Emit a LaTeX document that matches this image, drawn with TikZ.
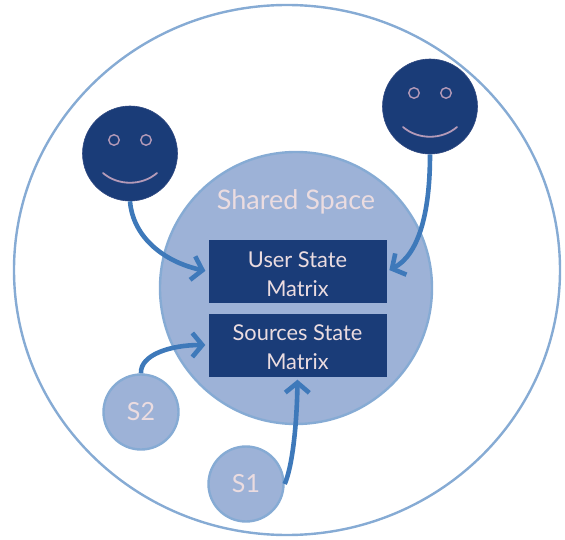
\documentclass[tikz,border=0pt]{standalone}
\usepackage{fontspec}
\setmainfont{Lato}
\usetikzlibrary{arrows.meta,shapes.geometric}
\definecolor{navy}{HTML}{1A3C78}
\definecolor{fillblue}{HTML}{9DB2D7}
\definecolor{edgeblue}{HTML}{86ABD4}
\definecolor{arrowblue}{HTML}{3E79BA}
\definecolor{paletext}{HTML}{EBDCE0}
\definecolor{facemark}{HTML}{B49AB8}
\tikzset{
  outerring/.style={ellipse,draw=edgeblue,line width=2.4pt,inner sep=0pt,minimum width=546pt,minimum height=530pt},
  sharedcircle/.style={circle,draw=edgeblue,line width=2.4pt,fill=fillblue,inner sep=0pt,minimum size=272pt},
  facecircle/.style={circle,fill=navy,draw=navy!85!facemark,line width=.6pt,inner sep=0pt,minimum size=95pt},
  sourcecircle/.style={circle,draw=edgeblue,line width=2.4pt,fill=fillblue,text=paletext,font=\fontsize{25}{27}\selectfont,inner sep=0pt,minimum size=75pt},
  matrixbox/.style={rectangle,fill=navy,text=paletext,align=center,font=\fontsize{21.8}{29}\selectfont,inner sep=0pt,minimum width=178pt,minimum height=63pt},
  sharedlabel/.style={text=paletext,font=\fontsize{27}{30}\selectfont,inner sep=0pt},
  eye/.style={circle,draw=facemark,line width=1.4pt,inner sep=0pt,minimum size=10.5pt},
  mouth/.style={draw=facemark,line width=1.8pt,line cap=round},
  flow/.style={draw=arrowblue,line width=4.6pt,-{Straight Barb[length=10pt,width=24pt,line width=4.6pt]}},
}
\newcommand{\lift}{\rule{0pt}{21pt}}
\begin{document}
\begin{tikzpicture}[x=1pt,y=-1pt]
\useasboundingbox (0,0) rectangle (565,540);
\node[outerring] (outer) at (287,270) {};
\node[sharedcircle] (shared) at (296,288) {};
\node[sharedlabel] (sharedtext) at (296,202) {Shared Space};
\node[matrixbox] (user) at (297.5,271.5) {\lift User State\\Matrix};
\node[matrixbox] (sources) at (297.5,345) {\lift Sources State\\Matrix};
\node[facecircle] (faceL) at (130,153.5) {};
\node[facecircle] (faceR) at (430,106.5) {};
\node[eye] (eyeLa) at (114,140) {};
\node[eye] (eyeLb) at (146,140) {};
\node[eye] (eyeRa) at (414,93) {};
\node[eye] (eyeRb) at (446,93) {};
\draw[mouth] (103,173) .. controls (118,186) and (142,186) .. (157,173);
\draw[mouth] (403,127) .. controls (418,140) and (442,140) .. (457,127);
\node[sourcecircle] (S2) at (141,412) {S2};
\node[sourcecircle] (S1) at (246,484) {S1};
\draw[flow,shorten >=3pt] (faceL.south) .. controls (133,238) and (165,262) .. (user.west);
\draw[flow,shorten >=3pt] (faceR.south) .. controls (430,215) and (418,255) .. (user.east);
\draw[flow,shorten >=3pt] (S2.north) .. controls (140,355) and (170,345) .. (sources.west);
\draw[flow,shorten >=3pt] (S1.east) .. controls (293,465) and (297,420) .. (sources.south);
\end{tikzpicture}
\end{document}
